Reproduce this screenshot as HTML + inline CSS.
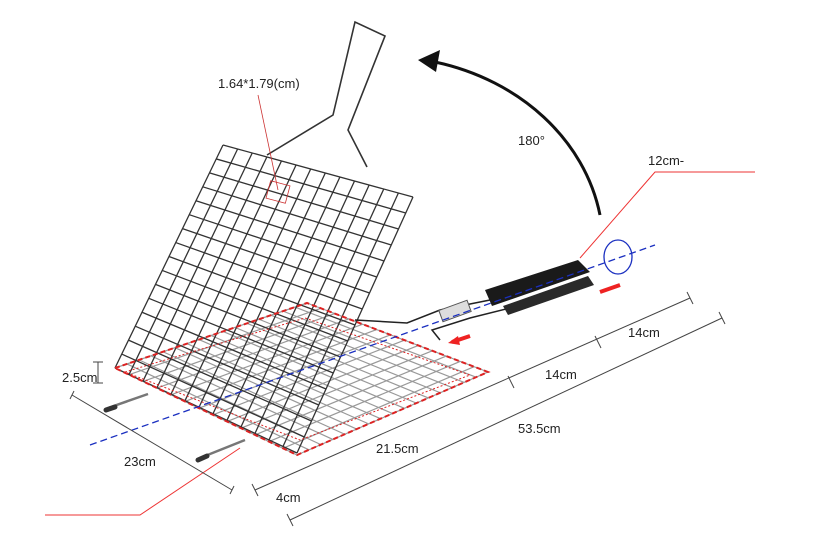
<!DOCTYPE html>
<html><head><meta charset="utf-8"><style>
html,body{margin:0;padding:0;background:#fff;}
svg{display:block}
text{font-family:"Liberation Sans",sans-serif;font-size:13px;fill:#222}
</style></head><body>
<svg id="s" width="826" height="549" viewBox="0 0 826 549" xmlns="http://www.w3.org/2000/svg">
<g id="base" stroke="#999" stroke-width="1.2" fill="none"></g>
<g id="lid" stroke="#333" stroke-width="1.3" fill="none"></g>
<polygon points="115,368 307,303 488,372 297,455" fill="none" stroke="#d22" stroke-width="2" stroke-dasharray="5,3"/>
<polygon points="125,372 305,318 470,375 300,440" fill="none" stroke="#d22" stroke-width="1" stroke-dasharray="2,2"/>
<path d="M267,155 L333,115 L355,22 L385,36 L348,130 L367,167" fill="none" stroke="#333" stroke-width="1.6"/>
<path d="M355,320 L407,323 L440,310 L490,300" fill="none" stroke="#222" stroke-width="1.5"/>
<path d="M440,340 L432,330 L470,318 L510,308" fill="none" stroke="#222" stroke-width="1.5"/>
<rect x="440" y="305" width="30" height="12" fill="#ddd" stroke="#555" transform="rotate(-20 455 311)"/>
<polygon points="485,290 578,260 590,272 492,306" fill="#1a1a1a"/>
<polygon points="503,306 588,276 594,285 508,315" fill="#2a2a2a"/>
<line x1="108" y1="408" x2="148" y2="394" stroke="#777" stroke-width="2.5"/>
<line x1="106" y1="410" x2="115" y2="407" stroke="#333" stroke-width="5" stroke-linecap="round"/>
<line x1="200" y1="458" x2="245" y2="440" stroke="#777" stroke-width="2.5"/>
<line x1="198" y1="460" x2="207" y2="456" stroke="#333" stroke-width="5" stroke-linecap="round"/>
<line x1="90" y1="445" x2="655" y2="245" stroke="#1a2fc0" stroke-width="1.3" stroke-dasharray="7,4"/>
<ellipse cx="618" cy="257" rx="14" ry="17" fill="none" stroke="#1a2fc0" stroke-width="1.3"/>
<path d="M600,292 L620,285" stroke="#e22" stroke-width="4"/>
<path d="M470,336 L452,342" stroke="#e22" stroke-width="4"/>
<polygon points="448,343 458,336 460,345" fill="#e22"/>
<path d="M600,215 C585,140 520,80 435,62" fill="none" stroke="#111" stroke-width="3"/>
<polygon points="418,60 440,50 436,72" fill="#111"/>
<polyline points="755,172 655,172 580,258" fill="none" stroke="#e33" stroke-width="1"/>
<polyline points="45,515 140,515 240,448" fill="none" stroke="#e33" stroke-width="1"/>
<line x1="258" y1="95" x2="278" y2="190" stroke="#c33" stroke-width="0.8"/>
<rect x="268" y="183" width="20" height="18" fill="none" stroke="#c33" stroke-width="0.8" transform="rotate(15 278 192)"/>
<g stroke="#444" stroke-width="1" fill="none">
<line x1="290" y1="520" x2="722" y2="318"/>
<line x1="255" y1="490" x2="690" y2="298"/>
<line x1="72" y1="395" x2="232" y2="490"/>
<line x1="98" y1="362" x2="98" y2="383"/>
<line x1="93" y1="362" x2="103" y2="362"/><line x1="93" y1="383" x2="103" y2="383"/>
<line x1="287" y1="514" x2="293" y2="526"/><line x1="719" y1="312" x2="725" y2="324"/>
<line x1="252" y1="484" x2="258" y2="496"/><line x1="508" y1="376" x2="514" y2="388"/><line x1="595" y1="336" x2="601" y2="348"/><line x1="687" y1="292" x2="693" y2="304"/>
<line x1="70" y1="399" x2="74" y2="391"/><line x1="230" y1="494" x2="234" y2="486"/>
</g>
<text x="218" y="88">1.64*1.79(cm)</text>
<text x="518" y="145">180°</text>
<text x="648" y="165">12cm-</text>
<text x="628" y="337">14cm</text>
<text x="545" y="379">14cm</text>
<text x="518" y="433">53.5cm</text>
<text x="376" y="453">21.5cm</text>
<text x="62" y="382">2.5cm</text>
<text x="124" y="466">23cm</text>
<text x="276" y="502">4cm</text>
</svg>
<script>
function lerp(a,b,t){return [a[0]+(b[0]-a[0])*t,a[1]+(b[1]-a[1])*t];}
function grid(id,p00,p10,p01,p11,n,m){
 var g=document.getElementById(id),s='';
 function P(u,v){return lerp(lerp(p00,p10,u),lerp(p01,p11,u),v);}
 for(var i=0;i<=n;i++){var a=P(i/n,0),b=P(i/n,1);s+='<line x1="'+a[0]+'" y1="'+a[1]+'" x2="'+b[0]+'" y2="'+b[1]+'"/>';}
 for(var j=0;j<=m;j++){var a=P(0,j/m),b=P(1,j/m);s+='<line x1="'+a[0]+'" y1="'+a[1]+'" x2="'+b[0]+'" y2="'+b[1]+'"/>';}
 g.innerHTML=s;
}
grid('base',[307,303],[488,372],[115,368],[297,455],13,16);
grid('lid',[223,145],[413,197],[115,368],[297,453],13,16);
</script>
</body></html>
